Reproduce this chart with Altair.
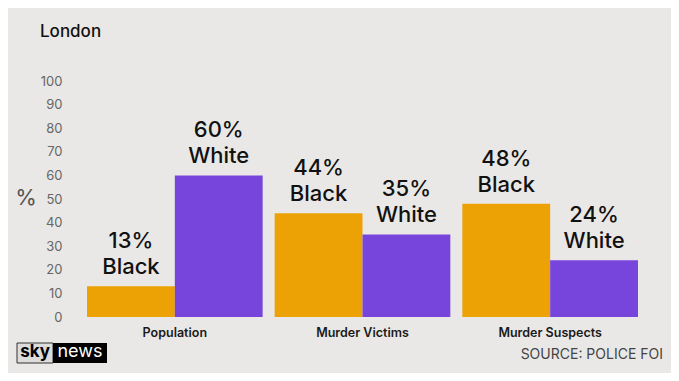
import altair as alt
import pandas as pd

categories = ["Population", "Murder Victims", "Murder Suspects"]
groups = ["Black", "White"]
black_values = [13, 44, 48]
white_values = [60, 35, 24]
y_ticks = [0, 10, 20, 30, 40, 50, 60, 70, 80, 90, 100]
colors = ["#ECA204", "#7845DC"]

rows = []
for c, b, w in zip(categories, black_values, white_values):
    rows.append({"category": c, "group": "Black", "value": b, "label": f"{b}%\nBlack"})
    rows.append({"category": c, "group": "White", "value": w, "label": f"{w}%\nWhite"})
df = pd.DataFrame(rows)

FONT = "Inter"

x_enc = alt.X("category:N", sort=categories,
              scale=alt.Scale(paddingInner=0.064, paddingOuter=0.032),
              axis=alt.Axis(title=None, labelAngle=0, domain=False, ticks=False,
                            labelFontSize=12.5, labelFontWeight=600, labelColor="#1a1a1a",
                            labelPadding=9, labelFont=FONT))
xo_enc = alt.XOffset("group:N", sort=groups, scale=alt.Scale(paddingInner=0, paddingOuter=0))
y_enc = alt.Y("value:Q", scale=alt.Scale(domain=[0, 100], nice=False),
              axis=alt.Axis(title=None, values=y_ticks, domain=False, ticks=False, grid=False,
                            labelFontSize=13, labelColor="#666666", labelPadding=19,
                            labelOverlap=False, labelFont=FONT))

base = alt.Chart(df)
bars = base.mark_bar().encode(
    x=x_enc, xOffset=xo_enc, y=y_enc,
    color=alt.Color("group:N", sort=groups, scale=alt.Scale(domain=groups, range=colors), legend=None),
)
labels = base.mark_text(lineBreak="\n", baseline="bottom", dy=-33, fontSize=22,
                        lineHeight=26, font=FONT, fontWeight=500, color="#111111").encode(
    x=x_enc, xOffset=xo_enc, y=y_enc, text="label:N",
)

one = pd.DataFrame([{"a": 1}])
ann = alt.Chart(one)
title = ann.mark_text(text="London", align="left", baseline="alphabetic", fontSize=17,
                      font=FONT, fontWeight=500, color="#111111").encode(
    x=alt.value(-41), y=alt.value(-44))
pct = ann.mark_text(text="%", align="center", baseline="middle", fontSize=22,
                    font=FONT, color="#555555").encode(x=alt.value(-55), y=alt.value(117))
sky_box = ann.mark_rect(color="#dcdcdc", stroke="#333333", strokeWidth=1).encode(
    x=alt.value(-64), x2=alt.value(-28), y=alt.value(262), y2=alt.value(282))
news_box = ann.mark_rect(color="#000000").encode(
    x=alt.value(-28), x2=alt.value(26), y=alt.value(262), y2=alt.value(282))
sky_txt = ann.mark_text(text="sky", align="center", baseline="middle", fontSize=17,
                        font=FONT, fontWeight=700, color="#000000").encode(
    x=alt.value(-46), y=alt.value(271))
news_txt = ann.mark_text(text="news", align="center", baseline="middle", fontSize=18,
                         font=FONT, color="#ffffff").encode(x=alt.value(-1), y=alt.value(271))
source = ann.mark_text(text="SOURCE: POLICE FOI", align="right", baseline="middle", fontSize=14,
                       font=FONT, color="#444444").encode(x=alt.value(582), y=alt.value(274))

chart = alt.layer(bars, labels, title, pct, sky_box, news_box, sky_txt, news_txt, source).properties(
    width=563, height=236,
    autosize=alt.AutoSizeParams(type="none"),
    padding={"left": 73, "top": 73, "right": 27, "bottom": 56},
    background="#eae8e6",
).configure_view(stroke=None)

chart.save("out.html", embed_options={"renderer": "svg", "actions": False})
